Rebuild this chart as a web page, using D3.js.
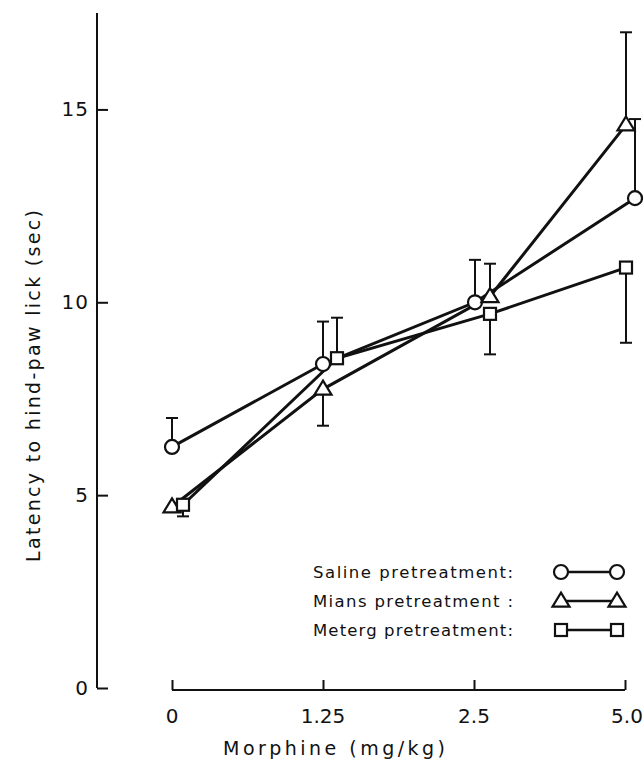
<!DOCTYPE html>
<html>
<head>
<meta charset="utf-8">
<script src="https://cdn.jsdelivr.net/npm/d3@7"></script>
<style>
  html, body { margin: 0; padding: 0; background: #fff; }
  svg { display: block; }
  text { font-family: "DejaVu Sans", sans-serif; fill: #111; }
</style>
</head>
<body>
<svg id="chart" width="643" height="762"></svg>
<script>
// ---- data ----
const doses = ["0", "1.25", "2.5", "5.0"];
const yTicks = [0, 5, 10, 15];
const seriesNames = ["Saline pretreatment:", "Mians pretreatment :", "Meterg pretreatment:"];
const salineMean = [6.25, 8.4, 10.0, 12.7];
const salineErrEnd = [7.0, 9.5, 11.1, 14.75];
const miansMean = [4.7, 7.75, 10.15, 14.6];
const miansErrEnd = [null, 6.8, 11.0, 17.0];
const metergMean = [4.75, 8.55, 9.7, 10.9];
const metergErrEnd = [4.45, 9.6, 8.65, 8.95];

// ---- layout ----
const svg = d3.select("#chart");
const x = d3.scalePoint().domain(doses).range([172, 625]);
const y = d3.scaleLinear().domain([0, 17.5]).range([688, 13]);
const yAxisX = 97, xAxisY = 690;

// horizontal dodge (px) per series per dose, as in the original figure
const dodge = [[0, 0, 1, 10], [0, 0, 16, 1], [11, 14, 16, 1]];
const shapes = ["circle", "triangle", "square"];

const series = [
  { mean: salineMean, err: salineErrEnd },
  { mean: miansMean, err: miansErrEnd },
  { mean: metergMean, err: metergErrEnd }
];

// ---- axes ----
const yAxis = d3.axisRight(y).tickValues(yTicks).tickSize(11).tickFormat(() => "");
const gy = svg.append("g").attr("transform", `translate(${yAxisX},0)`).call(yAxis);
gy.select(".domain").attr("d", `M0,${y(17.5)}V${y(0)}`);
gy.selectAll("path, line").attr("stroke", "#111").attr("stroke-width", 2);
svg.append("g").selectAll("text").data(yTicks).join("text")
  .attr("x", 89).attr("y", d => y(d) + 7)
  .attr("text-anchor", "end")
  .attr("font-size", 20)
  .attr("letter-spacing", 1)
  .text(d => d);

const xAxis = d3.axisTop(x).tickSize(10).tickFormat(() => "");
const gx = svg.append("g").attr("transform", `translate(0,${xAxisY})`).call(xAxis);
gx.select(".domain").attr("d", `M${x(doses[0])},0H${x(doses[3])}`);
gx.selectAll("path, line").attr("stroke", "#111").attr("stroke-width", 2);
svg.append("g").selectAll("text").data(doses).join("text")
  .attr("x", (d, i) => x(d) + (i === 3 ? 2 : 0)).attr("y", 723)
  .attr("text-anchor", "middle")
  .attr("font-size", 20)
  .text(d => d);

svg.append("text")
  .attr("x", 334).attr("y", 755)
  .attr("text-anchor", "middle")
  .attr("font-size", 19)
  .attr("textLength", 222).attr("lengthAdjust", "spacing")
  .text("Morphine (mg/kg)");

svg.append("text")
  .attr("transform", "translate(40,386) rotate(-90)")
  .attr("text-anchor", "middle")
  .attr("font-size", 19)
  .attr("textLength", 352).attr("lengthAdjust", "spacing")
  .text("Latency to hind-paw lick (sec)");

// ---- marker drawing ----
function drawMarker(g, shape, cx, cy) {
  if (shape === "circle") {
    g.append("circle").attr("cx", cx).attr("cy", cy).attr("r", 7)
      .attr("fill", "#fff").attr("stroke", "#111").attr("stroke-width", 2.2);
  } else if (shape === "triangle") {
    const h = 14, w = 17;
    g.append("path")
      .attr("d", `M${cx},${cy - h * 0.6}L${cx + w / 2},${cy + h * 0.4}L${cx - w / 2},${cy + h * 0.4}Z`)
      .attr("fill", "#fff").attr("stroke", "#111").attr("stroke-width", 2.2);
  } else {
    g.append("rect").attr("x", cx - 6).attr("y", cy - 6).attr("width", 12).attr("height", 12)
      .attr("fill", "#fff").attr("stroke", "#111").attr("stroke-width", 2.2);
  }
}

const plot = svg.append("g");
const line = d3.line().x(d => d[0]).y(d => d[1]);

// lines first
series.forEach((s, si) => {
  const pts = s.mean.map((v, i) => [x(doses[i]) + dodge[si][i], y(v)]);
  plot.append("path").attr("d", line(pts))
    .attr("fill", "none").attr("stroke", "#111").attr("stroke-width", 3);
});
// error bars
series.forEach((s, si) => {
  s.err.forEach((e, i) => {
    if (e === null) return;
    const cx = x(doses[i]) + dodge[si][i];
    plot.append("line").attr("x1", cx).attr("x2", cx)
      .attr("y1", y(s.mean[i])).attr("y2", y(e))
      .attr("stroke", "#111").attr("stroke-width", 2);
    plot.append("line").attr("x1", cx - 6).attr("x2", cx + 6)
      .attr("y1", y(e)).attr("y2", y(e))
      .attr("stroke", "#111").attr("stroke-width", 2);
  });
});
// markers
series.forEach((s, si) => {
  s.mean.forEach((v, i) => {
    drawMarker(plot, shapes[si], x(doses[i]) + dodge[si][i], y(v));
  });
});

// ---- legend ----
const legendY = [572, 601, 630];
const legend = svg.append("g");
seriesNames.forEach((name, si) => {
  legend.append("text")
    .attr("x", 313).attr("y", legendY[si] + 6)
    .attr("font-size", 16.5)
    .attr("textLength", 200).attr("lengthAdjust", "spacing")
    .text(name);
  legend.append("line").attr("x1", 561).attr("x2", 617)
    .attr("y1", legendY[si]).attr("y2", legendY[si])
    .attr("stroke", "#111").attr("stroke-width", 2.5);
  drawMarker(legend, shapes[si], 561, legendY[si]);
  drawMarker(legend, shapes[si], 617, legendY[si]);
});
</script>
</body>
</html>
